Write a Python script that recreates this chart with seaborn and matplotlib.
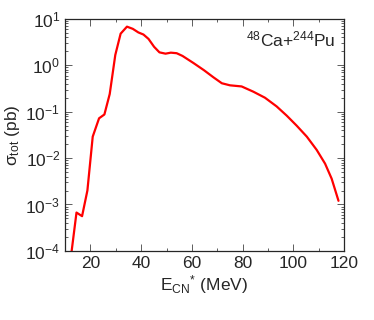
import matplotlib
matplotlib.use('Agg')
import matplotlib.pyplot as plt
import seaborn as sns
import pandas as pd

# excitation energy (MeV) and total cross section (pb)
energia = [12.0, 14.5, 16.7, 18.8, 20.9, 23.4, 25.5, 27.6, 29.8, 31.9, 34.4,
           36.7, 38.9, 40.9, 42.9, 45.1, 47.2, 49.6, 51.7, 54.0, 56.3, 60.6,
           64.8, 68.5, 71.8, 75.0, 79.6, 84.2, 88.8, 93.4, 97.4, 101.3,
           105.3, 109.2, 112.5, 115.1, 117.8]
sigma = [5.5e-5, 6.7e-4, 5.6e-4, 2.0e-3, 0.029, 0.072, 0.087, 0.24, 1.67, 4.8,
         6.8, 6.1, 5.1, 4.6, 3.7, 2.5, 1.9, 1.78, 1.87, 1.82, 1.59, 1.12,
         0.78, 0.55, 0.41, 0.37, 0.35, 0.27, 0.20, 0.13, 0.082, 0.050,
         0.029, 0.015, 7.6e-3, 3.6e-3, 1.2e-3]

df = pd.DataFrame({'E': energia, 'sigma': sigma})

sns.set_style('ticks')
plt.rcParams['font.family'] = ['Liberation Sans', 'DejaVu Sans']
plt.rcParams['mathtext.fontset'] = 'custom'
plt.rcParams['mathtext.rm'] = 'Liberation Sans'
plt.rcParams['mathtext.it'] = 'Liberation Sans:italic'
plt.rcParams['mathtext.default'] = 'regular'

fig = plt.figure(figsize=(3.74, 3.2), dpi=100)
ax = fig.add_axes([0.174, 0.216, 0.746, 0.725])

sns.lineplot(data=df, x='E', y='sigma', color='red', linewidth=1.6, ax=ax)

ax.set_yscale('log')
ax.set_xlim(10, 120)
ax.set_ylim(1e-4, 10)
ax.set_xticks([20, 40, 60, 80, 100, 120])
ax.set_xticks([10, 30, 50, 70, 90, 110], minor=True)

ax.tick_params(which='both', direction='in', top=True, right=True,
               labelsize=12.5, width=0.6, color='#444444')
ax.tick_params(which='major', length=5)
ax.tick_params(which='minor', length=2.5)
for s in ax.spines.values():
    s.set_linewidth(0.9)

ax.set_xlabel('E$_{CN}$$^{*}$ (MeV)', fontsize=12.5, labelpad=2)
ax.set_ylabel(r'$\sigma_{tot}$ (pb)', fontsize=12.5, labelpad=2)

ax.text(0.97, 0.91, '$^{48}$Ca+$^{244}$Pu', transform=ax.transAxes,
        ha='right', va='center', fontsize=12.5)

plt.savefig('out.png', dpi=100)
